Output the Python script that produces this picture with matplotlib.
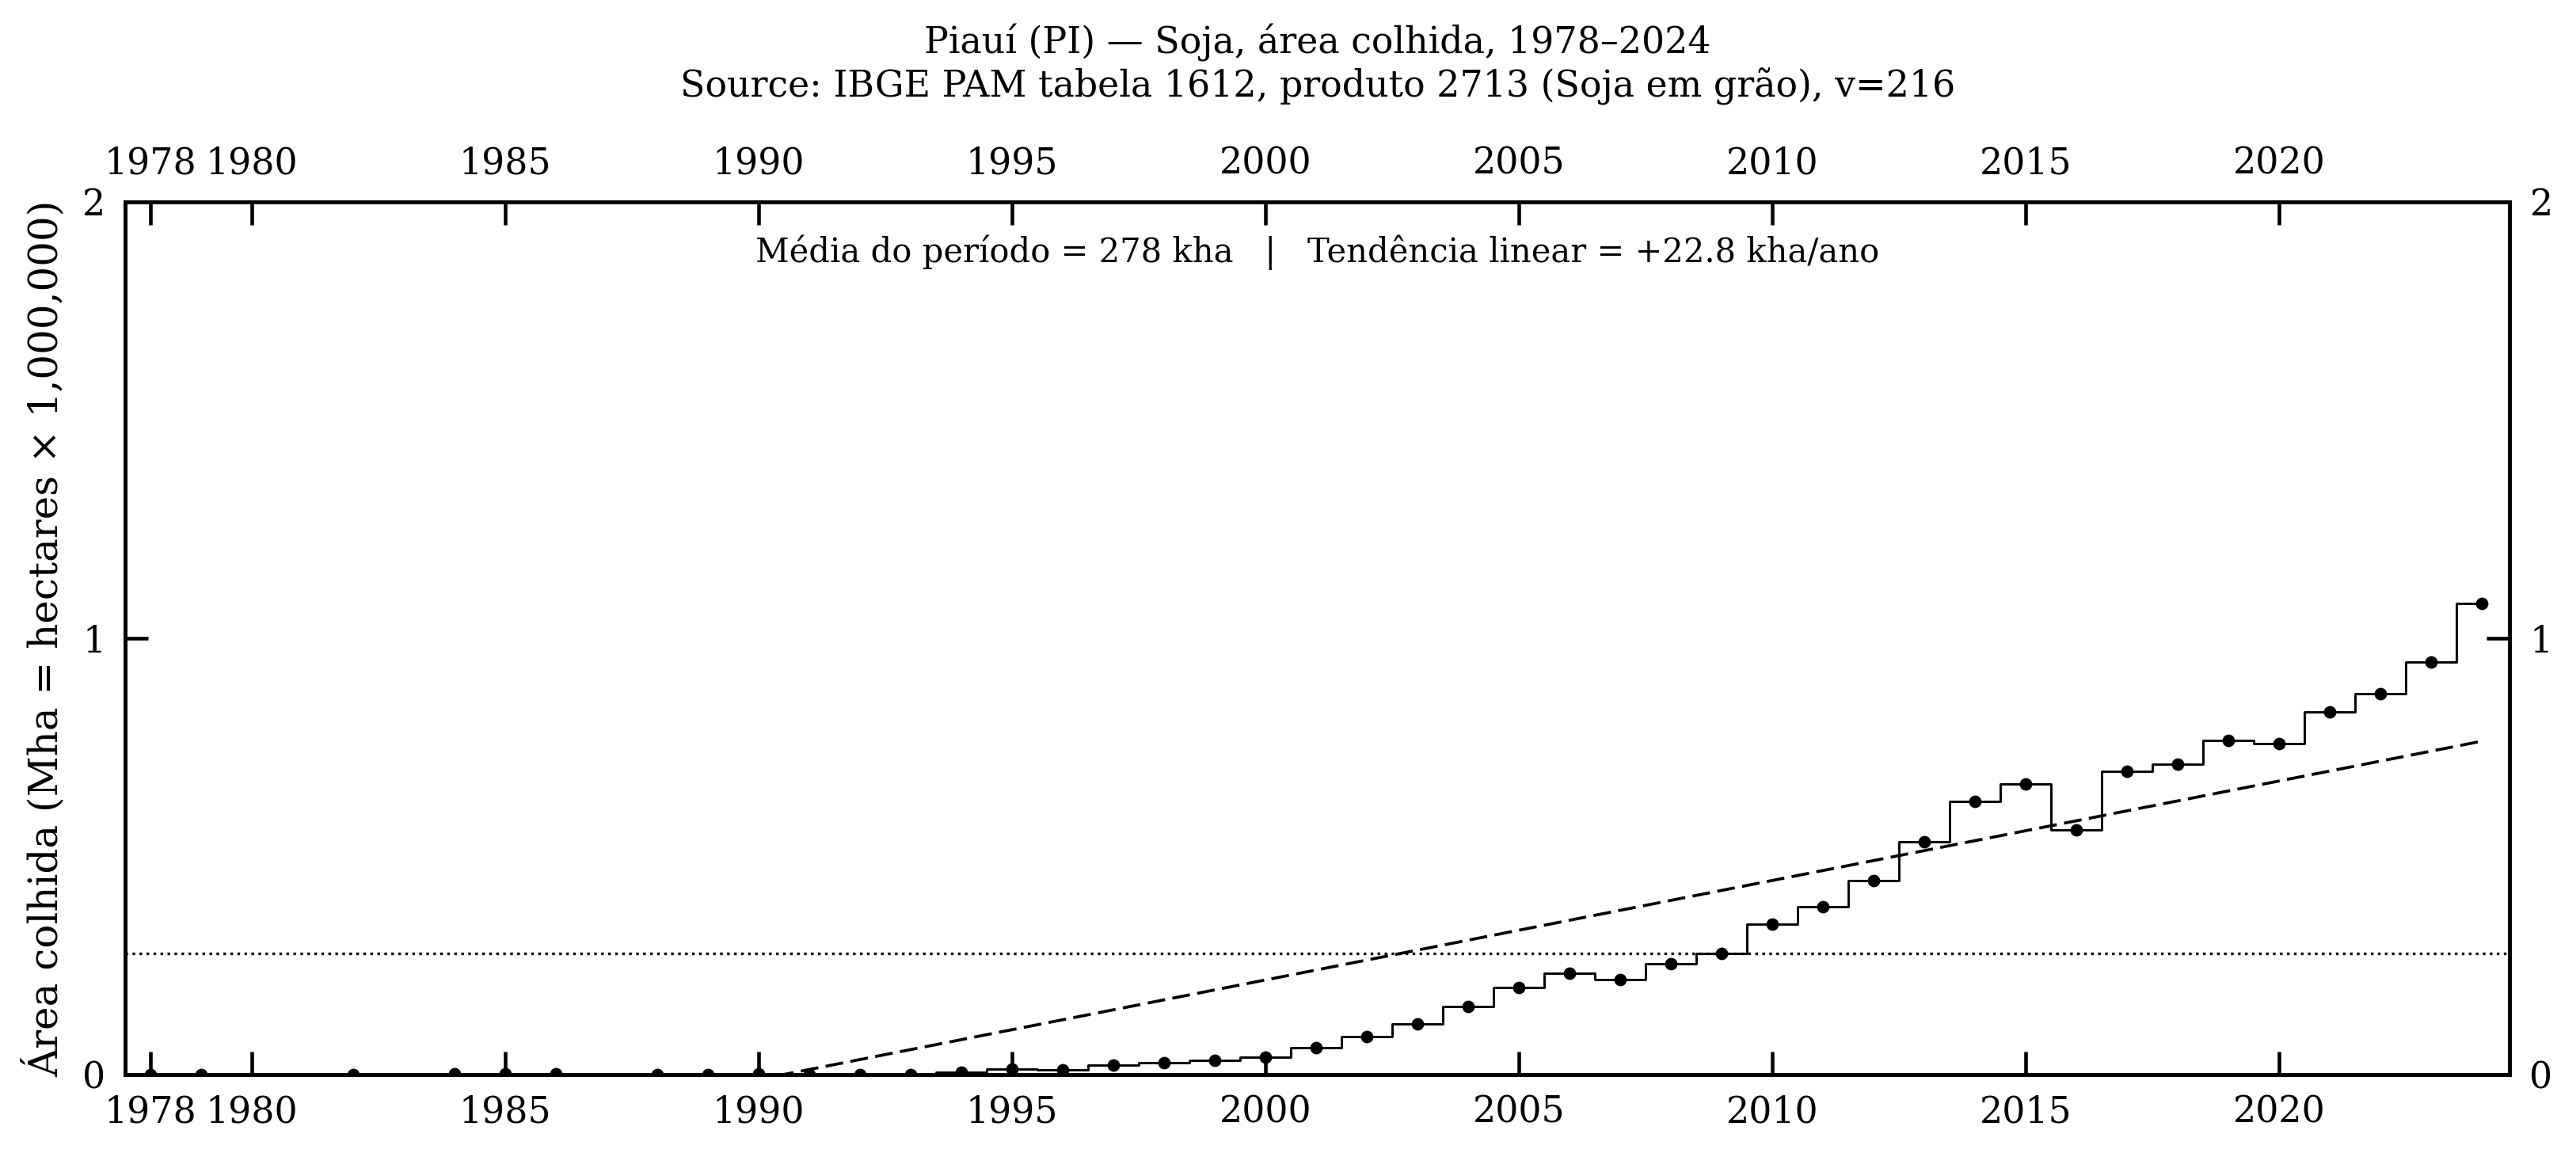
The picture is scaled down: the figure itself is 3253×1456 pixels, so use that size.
import numpy as np
import matplotlib
matplotlib.use('Agg')
import matplotlib.pyplot as plt

# Piauí - soja, área colhida (Mha); anos sem dado ficam de fora
anos = [1978, 1979, 1982, 1984, 1985, 1986, 1988, 1989, 1990, 1991, 1992, 1993,
        1994, 1995, 1996, 1997, 1998, 1999, 2000, 2001, 2002, 2003, 2004, 2005,
        2006, 2007, 2008, 2009, 2010, 2011, 2012, 2013, 2014, 2015, 2016, 2017,
        2018, 2019, 2020, 2021, 2022, 2023, 2024]
area_mha = [0.0, 0.0, 0.0, 0.001, 0.001, 0.001, 0.0, 0.0, 0.001, 0.0, 0.0, 0.0,
            0.005, 0.012, 0.011, 0.021, 0.028, 0.032, 0.040, 0.062, 0.087, 0.116, 0.156, 0.200,
            0.232, 0.218, 0.254, 0.278, 0.344, 0.384, 0.445, 0.533, 0.626, 0.666, 0.561, 0.695,
            0.711, 0.765, 0.759, 0.831, 0.872, 0.945, 1.079]
xticks = [1978, 1980, 1985, 1990, 1995, 2000, 2005, 2010, 2015, 2020]
yticks = [0, 1, 2]

plt.rcParams['font.family'] = ['DejaVu Serif']
plt.rcParams['axes.linewidth'] = 1.2

x = np.array(anos, dtype=float)
y = np.array(area_mha)
media = y.mean()
coef = np.polyfit(x, y, 1)

fig = plt.figure(figsize=(3254 / 300, 1456 / 300), dpi=300)
ax = fig.add_axes([0.0486, 0.068, 0.9254, 0.757])

ax.step(x, y, where='mid', color='k', lw=0.7)
ax.plot(x, y, 'o', color='k', ms=3.8, mew=0)
ax.axhline(media, color='k', lw=0.8, ls=':')
ax.plot(x, np.polyval(coef, x), color='k', lw=0.9, dashes=(6, 2.5))

ax.set_xlim(1977.5, 2024.55)
ax.set_ylim(0, 2)
ax.set_xticks(xticks)
ax.set_yticks(yticks)
ax.tick_params(direction='in', length=7, width=1.1, labelsize=11, pad=6,
               top=True, right=True, labeltop=True, labelright=True)

ax.set_ylabel('Área colhida (Mha = hectares × 1,000,000)', fontsize=12, labelpad=5)
ax.set_title('Piauí (PI) — Soja, área colhida, 1978–2024\n'
             'Source: IBGE PAM tabela 1612, produto 2713 (Soja em grão), v=216',
             fontsize=11, pad=15)
ax.text(0.5, 0.962,
        'Média do período = {:.0f} kha   |   Tendência linear = {:+.1f} kha/ano'.format(media * 1000, coef[0] * 1000),
        transform=ax.transAxes, ha='center', va='top', fontsize=10)

fig.savefig('out.png', dpi=300)
